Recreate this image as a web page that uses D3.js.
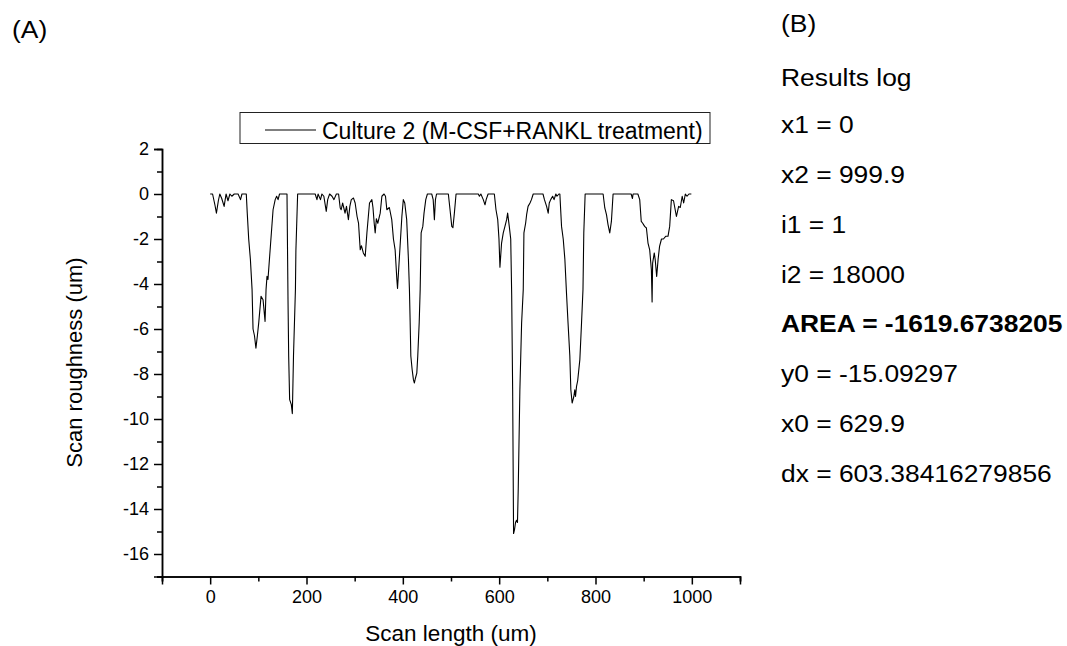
<!DOCTYPE html>
<html><head><meta charset="utf-8">
<script src="https://cdn.jsdelivr.net/npm/d3@7"></script>
<style>
body{margin:0;background:#fff;}
svg{display:block;font-family:"Liberation Sans",Arial,sans-serif;}
</style></head>
<body><svg id="c" width="1067" height="646"></svg>
<script>
const scanLength = [0,5,10,13,17,20,24,29,33,37,41,45,50,58,63,66,75,77,80,83.5,87,89,92,95,98,100.8,105.6,109.8,114,116,118,120,125,130.6,135,138,141,144,159.5,161.6,163,165,168.5,170.6,173,177,178,181.6,218,221.7,224,229,232,236,241,244,248,253,257,262,266.6,270,272,275,280,283,287,290,293,297.6,301,305,308,311.5,314,318,321.9,325.4,330.8,335.7,338,340.5,342.6,345,348,353,356.5,361,364,366.8,372,377,380.5,384,387.6,389,393,398,401,404,408,411.6,413.7,415,416.6,419.3,422,424,426,429,431,434,436,438,441.5,444,447.6,451,460,463,465.5,467.7,470,494.5,498,501.6,504,507,510.5,556.7,559,562,567,570.6,573,577,590,593.4,597,599.6,601.6,605,608.5,612,615.5,617.6,621,624,626,628,629.3,629.9,632,634,636,638,639.6,643,646.6,650,651.4,655,657,660,664,667,670.7,691,694,698.5,701.8,704,707,711,714,717.7,720,724,726,729.5,733,736.4,740,743,746.7,748.8,751.5,755,757,758.5,760.6,763,767.5,771,774,775.7,778.5,815.8,819.3,822.8,826,829.6,833,836.5,874,876.7,878,888,891.8,895,898,902,905.7,909,912.5,916,917.5,918.6,922,924,927,930,933,937,941,945.7,950.5,954,957.5,962,968,972.6,976,980,983,986.5,990,994,999];
const roughness = [0,0,-0.5,-0.85,-0.3,0,-0.2,-0.55,0,-0.3,0,-0.1,0,0,-0.25,0,0,-0.85,-2.0,-2.9,-4.25,-6.0,-6.3,-6.85,-6.3,-5.73,-4.55,-4.7,-5.66,-4.25,-3.66,-3.8,-2.33,-0.7,-0.25,-0.1,-0.25,0,0,-4.7,-7.2,-9.14,-9.36,-9.76,-7.2,-4.25,-2.5,0,0,-0.25,0,-0.25,0,-0.1,-0.77,-0.25,0,-0.1,-0.25,0,0,-0.62,-0.7,-0.4,-0.85,-0.55,-1.14,-0.55,-0.25,-0.18,-0.4,-1.0,-1.29,-2.48,-2.3,-2.62,-2.77,-1.73,-0.4,-0.25,-0.6,-1.29,-1.73,-1.1,-1.3,-0.85,-0.1,0,-0.1,-0.7,-0.6,-1.14,-2.0,-2.48,-3.8,-4.2,-2.77,-1.0,-0.25,-0.4,-1.14,-2.9,-4.25,-5.5,-7.2,-7.8,-8.25,-8.4,-8.2,-7.96,-7.2,-5.7,-4.25,-1.73,-1.44,-0.85,-0.25,0,0,-0.25,-1.14,-0.25,0,0,-0.7,-1.44,-1.5,-0.85,0,0,-0.1,0,-0.25,-0.48,-0.25,0,0,-0.7,-1.14,-2.0,-3.25,-2.18,-1.73,-1.44,-1.14,-0.85,-1.44,-2.0,-4.5,-8.7,-13.1,-15.09,-14.9,-14.6,-14.5,-14.6,-13.1,-8.7,-5.73,-4.25,-1.73,-1.29,-0.92,-0.55,-0.4,-0.25,0,0,-0.25,-0.55,-0.85,-0.4,-0.25,-0.1,-0.25,0,-0.1,0,0,-1.44,-2.0,-2.9,-4.5,-5.73,-7.2,-8.7,-9.29,-9.0,-8.7,-9.0,-8.55,-8.3,-7.36,-5.73,-4.25,-1.73,0,0,-0.62,-0.92,-1.36,-1.73,-1.22,0,0,-0.2,0,0,-0.25,-1.22,-1.3,-1.44,-1.51,-2.18,-2.48,-3.36,-4.8,-3.07,-2.62,-2.92,-3.66,-2.9,-2.33,-2.0,-2.0,-1.88,-1.88,-1.44,-0.25,-0.3,-1.0,-0.55,-0.6,-0.1,-0.4,0,-0.1,0,0];
const xMajorTicks = [0,200,400,600,800,1000];
const xMinorTicks = [-100,100,300,500,700,900,1100];
const yMajorTicks = [2,0,-2,-4,-6,-8,-10,-12,-14,-16];
const yMinorTicks = [1,-1,-3,-5,-7,-9,-11,-13,-15,-17];
const seriesName = "Culture 2 (M-CSF+RANKL treatment)";
const xTitle = "Scan length (um)";
const yTitle = "Scan roughness (um)";
const panelA = "(A)";
const panelB = "(B)";
const resultLines = ["Results log","x1 = 0","x2 = 999.9","i1 = 1","i2 = 18000","AREA = -1619.6738205","y0 = -15.09297","x0 = 629.9","dx = 603.38416279856"];
const resultBold = [false,false,false,false,false,true,false,false,false];

const svg = d3.select("#c");
const x = d3.scaleLinear().domain([-100,1100]).range([162,740]);
const y = d3.scaleLinear().domain([-17,2]).range([576.5,149]);
const fmt = d => String(d);

// axes
const gx = svg.append("g").attr("transform","translate(0,576.5)");
gx.call(d3.axisBottom(x).tickValues(xMajorTicks).tickSize(8).tickPadding(6).tickFormat(fmt));
gx.append("g").call(d3.axisBottom(x).tickValues(xMinorTicks).tickSize(5).tickFormat(""));
const gy = svg.append("g").attr("transform","translate(162,0)");
gy.call(d3.axisLeft(y).tickValues(yMajorTicks).tickSize(8).tickPadding(5).tickFormat(fmt));
gy.append("g").call(d3.axisLeft(y).tickValues(yMinorTicks).tickSize(5).tickFormat(""));
svg.selectAll(".domain").attr("stroke","#000").attr("stroke-width",1.5);
svg.selectAll(".tick line").attr("stroke","#000").attr("stroke-width",1.5);
svg.selectAll(".tick text").attr("font-size",18).attr("fill","#000").attr("font-family","'Liberation Sans',Arial,sans-serif");
gx.selectAll(".tick text").attr("dy","0.71em");

// line
const pts = scanLength.map((v,i)=>[v,roughness[i]]);
svg.append("path").datum(pts)
  .attr("fill","none").attr("stroke","#000").attr("stroke-width",1.1).attr("stroke-linejoin","round")
  .attr("d", d3.line().x(d=>x(d[0])).y(d=>y(d[1])));

// titles
svg.append("text").attr("x",451).attr("y",641).attr("text-anchor","middle").attr("font-size",22.5).text(xTitle);
svg.append("text").attr("transform","translate(82,362.5) rotate(-90)").attr("text-anchor","middle").attr("font-size",22).text(yTitle);

// legend
const lg = svg.append("g");
lg.append("rect").attr("x",240).attr("y",112.5).attr("width",470).attr("height",31).attr("fill","#fff").attr("stroke","#222").attr("stroke-width",1);
lg.append("line").attr("x1",265).attr("x2",316).attr("y1",130).attr("y2",130).attr("stroke","#000").attr("stroke-width",1.1);
lg.append("text").attr("x",322).attr("y",139).attr("font-size",23).text(seriesName);

// panel labels
svg.append("text").attr("transform","translate(12,38) scale(1.1,1)").attr("font-size",24).text(panelA);
svg.append("text").attr("transform","translate(781,32) scale(1.1,1)").attr("font-size",24).text(panelB);
const baselines = [86,133,183,233,283,332,382,432,482];
resultLines.forEach((t,i)=>{
  svg.append("text").attr("transform",`translate(781,${baselines[i]}) scale(1.1,1)`)
    .attr("font-size",24).attr("font-weight",resultBold[i]?"bold":"normal").text(t);
});
</script></body></html>
